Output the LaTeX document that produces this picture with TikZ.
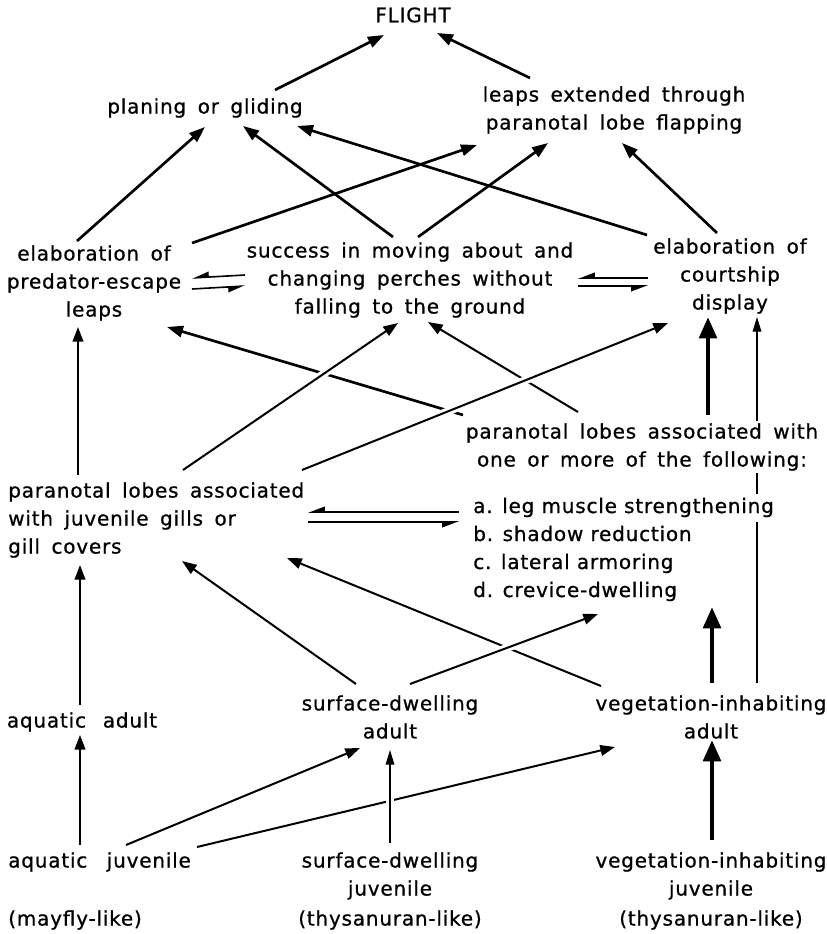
\documentclass[tikz,border=0pt]{standalone}
\usepackage{fontspec}
\setmainfont{DejaVu Sans}[LetterSpace=4,WordSpace=1.6,FakeBold=0.8]
\newfontfamily\listfont{DejaVu Sans}[LetterSpace=4,WordSpace=1.0,FakeBold=0.8]
\usetikzlibrary{arrows.meta,backgrounds}
\begin{document}
\begin{tikzpicture}[x=0.75pt,y=-0.75pt,
  lbl/.style={inner sep=0pt, align=center, font=\fontsize{15}{21}\selectfont},
  lbll/.style={inner sep=0pt, align=left, font=\fontsize{15}{21}\selectfont},
  item/.style={inner sep=0pt, anchor=west, text height=11pt, text depth=3.5pt,
    font=\listfont\fontsize{15}{21}\selectfont},
  big/.style={line width=2pt,-{Triangle[length=12pt,width=8.5pt]}},
  mid/.style={line width=1.5pt,-{Triangle[length=11pt,width=8pt]}},
  fine/.style={line width=1pt,-{Triangle[length=11pt,width=6.5pt]}},
  heavy/.style={line width=3.4pt,-{Triangle[length=16pt,width=13pt]}},
  harp/.style={line width=1.2pt,-{Triangle[length=11pt,width=8pt,right]}},
  over/.style={preaction={draw=white,line width=6pt,-}}
]
\useasboundingbox (0,0) rectangle (826,934);

% nodes
\node[lbl] (F) at (413,15) {FLIGHT};
\node[lbl] (P) at (205,108) {planing or gliding};
\node[lbl] (L) at (614,110) {leaps extended through\\paranotal lobe flapping};
\node[lbl] (E) at (94,283) {elaboration of\\predator-escape\\leaps};
\node[lbl] (S) at (410,280) {success in moving about and\\changing perches without\\falling to the ground};
\node[lbl] (C) at (730,276) {elaboration of\\courtship\\display};
\node[lbl,fill=white,inner ysep=2pt] (Q) at (642,447) {paranotal lobes associated with\\one or more of the following:};
\node[lbll,anchor=west] (G) at (8,520) {paranotal lobes associated\\with juvenile gills or\\gill covers};
\node[item,fill=white,inner ysep=3pt] (la) at (473,508) {a. leg muscle strengthening};
\node[item] (lb) at (473,536) {b. shadow reduction};
\node[item] (lc) at (473,564) {c. lateral armoring};
\node[item] (ld) at (473,592) {d. crevice-dwelling};
\node[lbl] (AA) at (82,722) {aquatic \hspace{4pt}adult};
\node[lbl] (SA) at (390,717) {surface-dwelling\\adult};
\node[lbl] (VA) at (711,717) {vegetation-inhabiting\\adult};
\node[lbll,anchor=west] (AJ) at (8,862) {aquatic \hspace{6pt}juvenile};
\node[lbl] (SJ) at (390,876) {surface-dwelling\\juvenile};
\node[lbl] (VJ) at (711,876) {vegetation-inhabiting\\juvenile};
\node[lbll,anchor=west] (M) at (8,920) {(mayfly-like)};
\node[lbl] (T1) at (390,920) {(thysanuran-like)};
\node[lbl] (T2) at (711,920) {(thysanuran-like)};

% line passing behind the texts
\begin{scope}[on background layer]
\draw[fine] ([shift={(46,-34)}]VA.center) -- ([shift={(27,41)}]C.center);
\end{scope}

% top
\draw[big] ([shift={(70,-18)}]P.center) -- ([shift={(-29,20)}]F.center);
\draw[big] ([shift={(-84,-32)}]L.center) -- ([shift={(24,18)}]F.center);
\draw[big] ([shift={(-17,-42)}]E.center) -- ([shift={(0,19)}]P.center);
\draw[big] ([shift={(-17,-43)}]S.center) -- ([shift={(38,18)}]P.center);
\draw[big] ([shift={(-83,-41)}]C.center) -- ([shift={(92,18)}]P.center);
\draw[big] ([shift={(98,-40)}]E.center) -- ([shift={(-137,35)}]L.center);
\draw[big] ([shift={(8,-43)}]S.center) -- ([shift={(-66,33)}]L.center);
\draw[big] ([shift={(-13,-43)}]C.center) -- ([shift={(8,33)}]L.center);

% harpoons
\draw[harp] ([shift={(-165,-5)}]S.center) -- ([shift={(98,-5)}]E.center);
\draw[harp] ([shift={(98,6)}]E.center) -- ([shift={(-165,6)}]S.center);
\draw[harp] ([shift={(-82,2)}]C.center) -- ([shift={(168,-2)}]S.center);
\draw[harp] ([shift={(168,6)}]S.center) -- ([shift={(-82,10)}]C.center);
\draw[harp] ([shift={(-14,4)}]la.west) -- ([shift={(300,-8)}]G.west);
\draw[harp] ([shift={(300,2)}]G.west) -- ([shift={(-14,14)}]la.west);

% middle
\draw[mid] ([shift={(70,-45)}]G.west) -- ([shift={(-16,44)}]E.center);
\draw[big] ([shift={(-179,-32)}]Q.center) -- ([shift={(73,44)}]E.center);
\draw[mid] ([shift={(-64,-35)}]Q.center) -- ([shift={(18,42)}]S.center);
\draw[heavy] ([shift={(66,-32)}]Q.center) -- ([shift={(-22,41)}]C.center);

% lower
\draw[mid] ([shift={(-2,-17)}]AA.center) -- ([shift={(72,45)}]G.west);
\draw[mid] ([shift={(-34,-33)}]SA.center) -- ([shift={(174,41)}]G.west);
\draw[mid] ([shift={(-110,-31)}]VA.center) -- ([shift={(279,38)}]G.west);
\draw[heavy] ([shift={(1,-34)}]VA.center) -- ([shift={(239,15)}]ld.west);

% bottom
\draw[mid] ([shift={(72,-17)}]AJ.west) -- ([shift={(-2,13)}]AA.center);
\draw[mid] ([shift={(118,-17)}]AJ.west) -- ([shift={(-30,31)}]SA.center);
\draw[mid] ([shift={(189,-15)}]AJ.west) -- ([shift={(-96,30)}]VA.center);
\draw[heavy] ([shift={(1,-36)}]VJ.center) -- ([shift={(1,23)}]VA.center);

% lines crossing over others
\draw[mid,over] ([shift={(175,-50)}]G.west) -- ([shift={(-12,43)}]S.center);
\draw[mid,over] ([shift={(294,-50)}]G.west) -- ([shift={(-62,47)}]C.center);
\draw[mid,over] ([shift={(20,-33)}]SA.center) -- ([shift={(125,22)}]ld.west);
\draw[fine,over] ([shift={(0,-33)}]SJ.center) -- ([shift={(0,33)}]SA.center);
\end{tikzpicture}
\end{document}
